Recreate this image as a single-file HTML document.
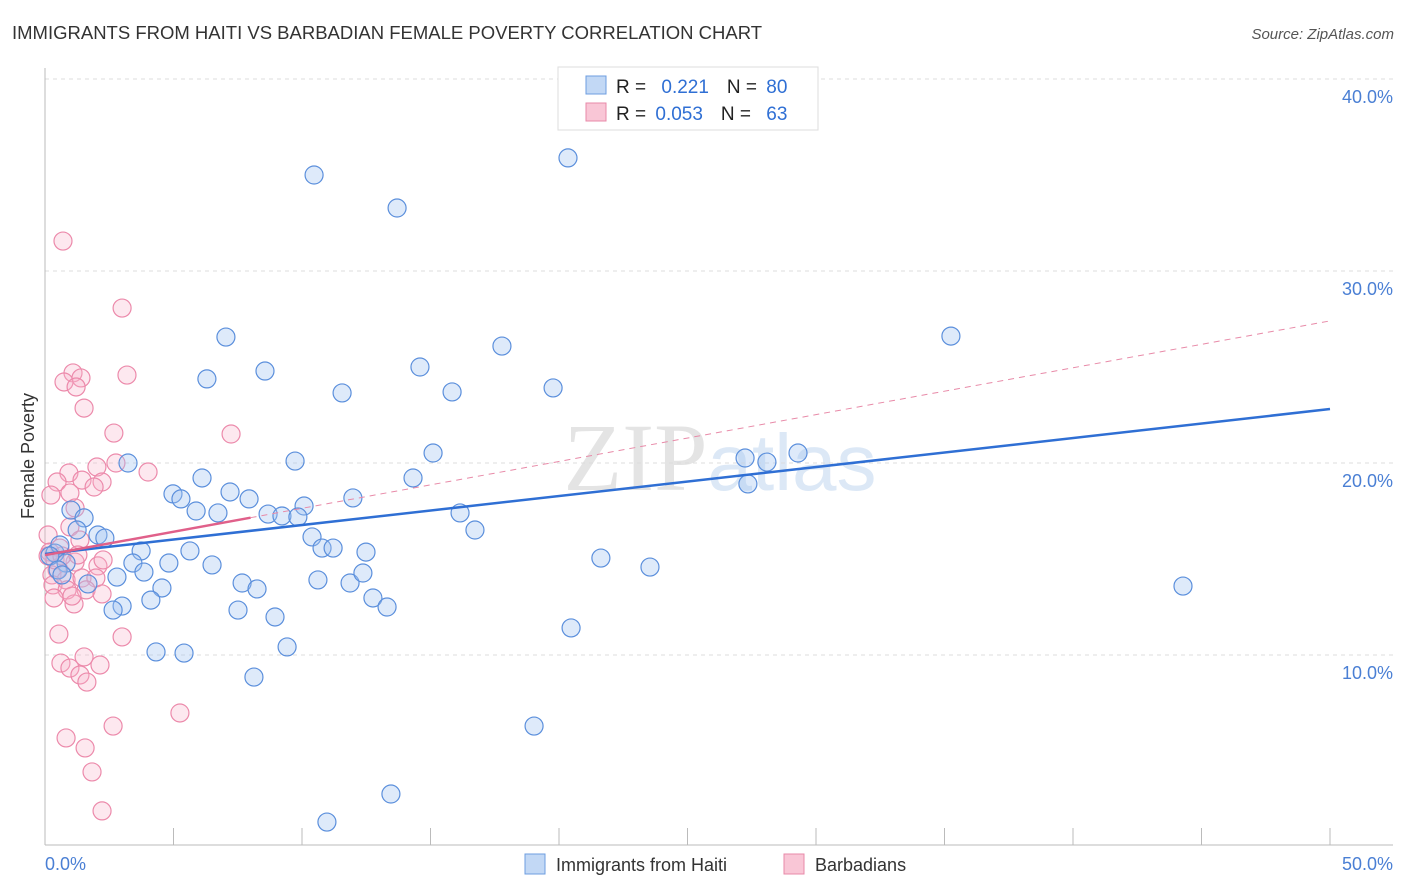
<!DOCTYPE html>
<html><head><meta charset="utf-8"><style>
body{margin:0;background:#fff;font-family:"Liberation Sans",sans-serif;}
svg{display:block}
</style></head><body>
<svg id="chart" width="1406" height="892" xmlns="http://www.w3.org/2000/svg">
<text x="12" y="39" font-size="18.5" fill="#333">IMMIGRANTS FROM HAITI VS BARBADIAN FEMALE POVERTY CORRELATION CHART</text>
<text x="1394" y="39" font-size="15" fill="#555" font-style="italic" text-anchor="end">Source: ZipAtlas.com</text>
<text x="720" y="490" font-size="96" fill="#e4e4e4" text-anchor="middle" font-family="Liberation Serif,serif">ZIP<tspan fill="#dce8f6" font-family="Liberation Sans,sans-serif" font-size="80">atlas</tspan></text>
<g id="grid"></g><g id="axes"></g><g id="marks"></g>
<text transform="translate(34,456) rotate(-90)" font-size="18" fill="#333" text-anchor="middle">Female Poverty</text>
<g>
<rect x="558" y="67" width="260" height="63" fill="#fff" stroke="#ddd"/>
<rect x="586" y="76" width="20" height="18" fill="#c2d8f5" stroke="#6d9ee0"/>
<rect x="586" y="103" width="20" height="18" fill="#f9c6d6" stroke="#e889a8"/>
<text x="616" y="93" font-size="19" fill="#222">R = <tspan fill="#2f6fd4" dx="10">0.221</tspan><tspan dx="18" fill="#222">N = </tspan><tspan fill="#2f6fd4" dx="4">80</tspan></text>
<text x="616" y="120" font-size="19" fill="#222">R = <tspan fill="#2f6fd4" dx="4">0.053</tspan><tspan dx="18" fill="#222">N = </tspan><tspan fill="#2f6fd4" dx="10">63</tspan></text>
</g>
<g>
<rect x="525" y="854" width="20" height="20" fill="#c2d8f5" stroke="#6d9ee0"/>
<text x="556" y="871" font-size="18" fill="#333">Immigrants from Haiti</text>
<rect x="784" y="854" width="20" height="20" fill="#f9c6d6" stroke="#e889a8"/>
<text x="815" y="871" font-size="18" fill="#333">Barbadians</text>
</g>
</svg>
<script>
const yTicks=[10,20,30,40];
const xTickLabels=["0.0%","50.0%"];
const haitiX=[20.35,10.47,13.70,7.04,35.25,17.78,8.56,14.59,6.30,11.56,15.84,19.77,3.23,9.73,15.10,27.24,28.09,29.30,27.35,14.32,6.11,4.98,5.29,7.20,7.94,11.98,10.08,5.88,6.73,8.68,9.22,9.84,16.15,16.73,1.01,1.52,1.25,2.06,2.33,10.39,10.78,11.21,3.74,5.64,12.49,21.63,23.54,3.42,4.82,6.50,0.39,0.82,3.85,2.80,7.67,8.25,4.55,10.62,11.87,12.37,1.67,4.12,3.00,2.65,7.51,12.76,13.31,8.95,20.47,4.32,5.41,9.42,8.13,19.03,13.46,10.97,44.28,0.58,0.19,0.51,0.66];
const haitiY=[35.89,35.0,33.28,26.56,26.61,26.09,24.79,25.0,24.38,23.65,23.70,23.91,20.0,20.10,20.52,20.26,20.05,20.52,18.91,19.22,19.22,18.39,18.13,18.49,18.13,18.18,17.76,17.50,17.40,17.34,17.24,17.19,17.40,16.51,17.55,17.14,16.51,16.25,16.09,16.15,15.57,15.57,15.42,15.42,15.36,15.05,14.58,14.79,14.79,14.69,15.31,14.79,14.32,14.06,13.75,13.44,13.49,13.91,13.75,14.27,13.70,12.86,12.55,12.34,12.34,12.97,12.50,11.98,11.41,10.16,10.10,10.42,8.85,6.30,2.76,1.30,13.59,15.73,15.16,14.43,14.17];
const barbX=[0.70,3.00,1.09,3.19,0.74,1.40,1.21,1.52,2.68,7.24,2.02,2.76,4.01,0.93,1.44,0.47,2.22,1.91,0.97,0.23,1.17,0.97,1.36,0.12,0.58,0.19,2.06,2.26,1.17,0.47,0.27,0.82,1.44,1.98,1.60,2.22,0.31,0.86,1.13,0.54,3.00,0.62,0.97,2.14,1.52,1.36,1.63,5.25,2.65,0.82,1.56,1.83,2.22,0.12,0.39,0.66,1.05,0.35,1.28];
const barbY=[31.56,28.07,24.69,24.58,24.22,24.43,23.96,22.86,21.56,21.51,19.79,20.0,19.53,19.48,19.11,19.01,19.01,18.75,18.44,18.33,17.66,16.67,15.99,16.25,15.57,15.36,14.64,14.95,14.84,14.43,14.17,13.91,14.01,14.01,13.39,13.18,13.65,13.39,12.66,11.09,10.94,9.58,9.32,9.48,9.90,8.96,8.59,6.98,6.30,5.68,5.16,3.91,1.88,15.16,14.95,15.16,13.07,12.97,15.21];
const haitiTrend=[15.26,22.81];
const barbTrend=[15.2,27.4];
const barbSolidEnd=8.0;
const NS="http://www.w3.org/2000/svg";
const X=v=>45+v/50*1285, Y=v=>847-v*19.2;
function mk(tag,attrs,parent){const e=document.createElementNS(NS,tag);for(const k in attrs)e.setAttribute(k,attrs[k]);parent.appendChild(e);return e;}
const grid=document.getElementById('grid'),axes=document.getElementById('axes'),marks=document.getElementById('marks');
yTicks.forEach(t=>{
 const l=mk('line',{x1:45,x2:1393,y1:Y(t),y2:Y(t),stroke:'#ddd','stroke-dasharray':'4,4'},grid);
 
 
 const tx=mk('text',{x:1393,y:Y(t)+24,'font-size':18,fill:'#4a7fd4','text-anchor':'end'},grid);
 tx.textContent=t.toFixed(1)+'%';
 
 
});
mk('line',{x1:45,x2:45,y1:68,y2:845,stroke:'#bbb'},axes);
mk('line',{x1:45,x2:1393,y1:845,y2:845,stroke:'#bbb'},axes);
for(let i=1;i<=10;i++){const t=mk('line',{x1:X(i*5),x2:X(i*5),y1:828,y2:845,stroke:'#bbb'},axes);
 
 }
const xl0=mk('text',{x:45,y:870,'font-size':18,fill:'#4a7fd4'},axes);xl0.textContent=xTickLabels[0];


const xl1=mk('text',{x:1393,y:870,'font-size':18,fill:'#4a7fd4','text-anchor':'end'},axes);xl1.textContent=xTickLabels[1];


barbX.forEach((v,i)=>{const c=mk('circle',{cx:X(v),cy:Y(barbY[i]),r:9,fill:'rgba(248,180,202,0.3)',stroke:'#ec8aab','stroke-width':1.2},marks);
 
 });
haitiX.forEach((v,i)=>{const c=mk('circle',{cx:X(v),cy:Y(haitiY[i]),r:9,fill:'rgba(160,196,240,0.35)',stroke:'#5b8fdc','stroke-width':1.2},marks);
 
 });
const bAt=x=>barbTrend[0]+(barbTrend[1]-barbTrend[0])*x/50;
const pd=mk('line',{x1:X(barbSolidEnd),y1:Y(bAt(barbSolidEnd)),x2:X(50),y2:Y(barbTrend[1]),stroke:'#e88aa8','stroke-width':1,'stroke-dasharray':'6,5'},marks);


const ht=mk('line',{x1:X(0),y1:Y(haitiTrend[0]),x2:X(50),y2:Y(haitiTrend[1]),stroke:'#2f6fd4','stroke-width':2.5},marks);


const pt=mk('line',{x1:X(0),y1:Y(barbTrend[0]),x2:X(barbSolidEnd),y2:Y(bAt(barbSolidEnd)),stroke:'#e0608a','stroke-width':2.5},marks);


</script>
</body></html>
